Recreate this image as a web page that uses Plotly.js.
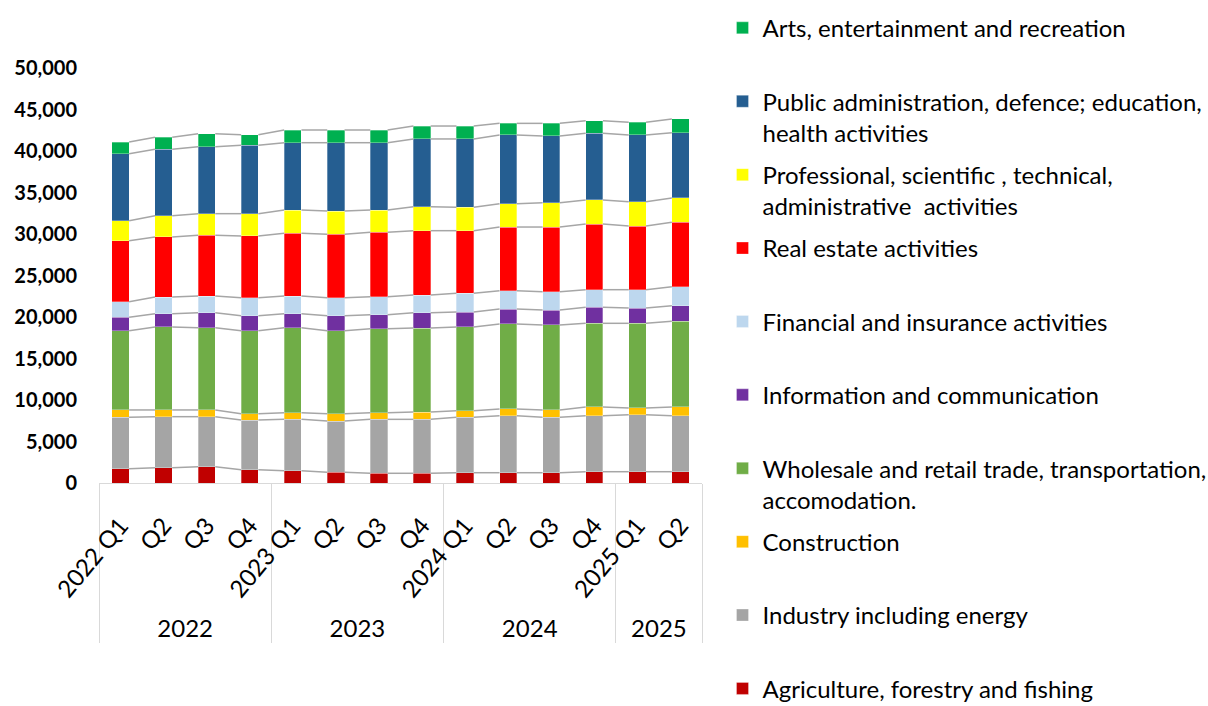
<!DOCTYPE html>
<html>
<head>
<meta charset="utf-8">
<script src="https://cdn.plot.ly/plotly-3.0.1.min.js"></script>
<style>
	html, body { margin: 0; padding: 0; background: #ffffff; }
	#chart { width: 1208px; height: 706px; }
</style>
</head>
<body>
<div id="chart"></div>
<script>
// Quarters (outer level = year, inner level = quarter label)
// a zero-width space keeps the repeated quarter names distinct per year, so plotly keeps the data order
var zw = '\u200b';
var arr_year = ['2022','2022','2022','2022','2023','2023','2023','2023','2024','2024','2024','2024','2025','2025'];
var arr_quarter = ['2022 Q1','Q2','Q3','Q4','2023 Q1','Q2'+zw,'Q3'+zw,'Q4'+zw,'2024 Q1','Q2'+zw+zw,'Q3'+zw+zw,'Q4'+zw+zw,'2025 Q1','Q2'+zw+zw+zw];

// Values, bottom of the stack first
var arr_agriculture = [1720,1840,1960,1600,1480,1290,1170,1170,1240,1240,1240,1360,1360,1360];
var arr_industry = [6200,6150,6030,5990,6190,6180,6500,6500,6680,6870,6680,6750,6870,6750];
var arr_construction = [880,810,810,760,800,880,800,880,790,810,880,1050,810,1050];
var arr_wholesale = [9550,10000,9910,10000,10240,10000,10120,10120,10090,10240,10240,10080,10200,10320];
var arr_information = [1610,1600,1810,1810,1690,1810,1690,1850,1800,1800,1800,1930,1840,1880];
var arr_financial = [1890,2010,2010,2170,2130,2170,2170,2130,2260,2210,2210,2120,2210,2290];
var arr_real_estate = [7340,7230,7310,7430,7550,7630,7750,7750,7540,7670,7790,7910,7670,7760];
var arr_professional = [2410,2560,2610,2690,2810,2810,2690,2890,2820,2810,2930,2900,2930,2930];
var arr_public = [8070,8000,8070,8240,8110,8230,8110,8160,8230,8280,8040,8030,8040,7860];
var arr_arts = [1410,1450,1560,1270,1530,1530,1530,1560,1560,1400,1520,1520,1530,1660];

var arr_series = [
	{name: 'Agriculture, forestry and fishing', values: arr_agriculture, color: '#C00000'},
	{name: 'Industry including energy', values: arr_industry, color: '#A5A5A5'},
	{name: 'Construction', values: arr_construction, color: '#FFC000'},
	{name: 'Wholesale and retail trade, transportation,<br>accomodation.', values: arr_wholesale, color: '#70AD47'},
	{name: 'Information and communication', values: arr_information, color: '#7030A0'},
	{name: 'Financial and insurance activities', values: arr_financial, color: '#BDD7EE'},
	{name: 'Real estate activities', values: arr_real_estate, color: '#FF0000'},
	{name: 'Professional, scientific , technical,<br>administrative  activities', values: arr_professional, color: '#FFFF00'},
	{name: 'Public administration, defence; education,<br>health activities', values: arr_public, color: '#255E91'},
	{name: 'Arts, entertainment and recreation', values: arr_arts, color: '#00B050'}
];

var bar_width = 0.4;
var label_font = 'Lato, "Open Sans", sans-serif';

function get_trace_bar(serie, idx){
	var name = serie.name;
	// pad single line entries so every legend row has the same height
	if (name.indexOf('<br>') < 0 && idx > 0){
		name = name + '<br>\u00a0';
	}
	return {
		x: [arr_year, arr_quarter],
		y: serie.values,
		type: 'bar',
		name: name,
		legendgroup: 'g' + idx,
		legendrank: 1000 - idx * 10,
		marker: {color: serie.color, line: {color: 'rgba(255,255,255,0.6)', width: 0.5}},
		hoverinfo: 'y+name'
	};
}

// gray connector lines between bar tops (series lines)
function get_trace_series_line(arr_top){
	var arr_x = [];
	var arr_y = [];
	for (var i = 0; i < arr_top.length - 1; i++){
		arr_x.push(i + bar_width / 2, i + 1 - bar_width / 2, null);
		arr_y.push(arr_top[i], arr_top[i + 1], null);
	}
	return {
		x: arr_x,
		y: arr_y,
		xaxis: 'x2',
		yaxis: 'y',
		type: 'scatter',
		mode: 'lines',
		line: {color: '#A6A6A6', width: 1.5},
		showlegend: false,
		hoverinfo: 'skip'
	};
}

var data = [];
var arr_cum = arr_quarter.map(function(){ return 0; });
for (var s = 0; s < arr_series.length; s++){
	data.push(get_trace_bar(arr_series[s], s));
}
for (var s = 0; s < arr_series.length; s++){
	var vals = arr_series[s].values;
	arr_cum = arr_cum.map(function(v, i){ return v + vals[i]; });
	data.push(get_trace_series_line(arr_cum.slice()));
}

var layout = {
	width: 1208,
	height: 706,
	barmode: 'stack',
	bargap: 1 - bar_width,
	paper_bgcolor: '#ffffff',
	plot_bgcolor: '#ffffff',
	margin: {l: 99, r: 506, t: 68, b: 223, autoexpand: false},
	font: {family: label_font, color: '#000000'},
	xaxis: {
		type: 'multicategory',
		showline: true,
		linecolor: '#D9D9D9',
		linewidth: 1,
		ticks: '',
		tickangle: -50,
		ticklabelstandoff: 18,
		tickfont: {size: 24, family: label_font, color: '#000000'},
		showdividers: true,
		dividercolor: '#D9D9D9',
		dividerwidth: 1,
		showgrid: false,
		zeroline: false
	},
	xaxis2: {
		overlaying: 'x',
		range: [-0.5, 13.5],
		visible: false,
		fixedrange: true
	},
	yaxis: {
		range: [0, 50000],
		dtick: 5000,
		tickformat: ',d',
		showgrid: false,
		zeroline: false,
		showline: false,
		ticks: '',
		ticklabelstandoff: 21,
		tickfont: {size: 20, family: label_font, color: '#000000', weight: 'bold'}
	},
	legend: {
		x: 1.034,
		xanchor: 'left',
		y: 1.15,
		yanchor: 'top',
		traceorder: 'grouped',
		tracegroupgap: 8,
		valign: 'top',
		maxheight: 2000,
		font: {size: 24, family: label_font, color: '#000000'},
		bgcolor: 'rgba(0,0,0,0)'
	},
	showlegend: true
};

Plotly.newPlot('chart', data, layout, {displayModeBar: false, staticPlot: true});
</script>
</body>
</html>
